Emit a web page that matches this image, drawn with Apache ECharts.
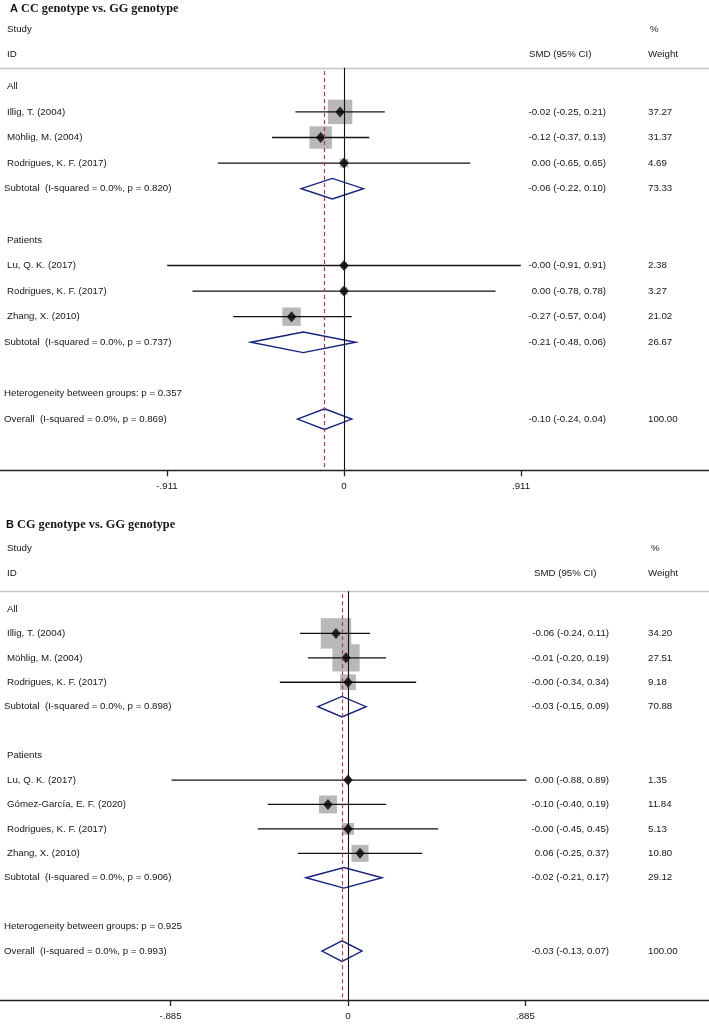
<!DOCTYPE html>
<html>
<head>
<meta charset="utf-8">
<script src="https://cdn.jsdelivr.net/npm/echarts@6/dist/echarts.min.js"></script>
<style>html,body{margin:0;padding:0;background:#fff}#c{width:709px;height:1024px}</style>
</head>
<body>
<div id="c"></div>
<script>
// ---------- Panel A data ----------
const letterA = 'A';
const titleA = 'CC genotype vs. GG genotype';
const rowsA = ['All', 'Illig, T. (2004)', 'Möhlig, M. (2004)', 'Rodrigues, K. F. (2017)',
  'Subtotal  (I-squared = 0.0%, p = 0.820)', '', 'Patients', 'Lu, Q. K. (2017)',
  'Rodrigues, K. F. (2017)', 'Zhang, X. (2010)', 'Subtotal  (I-squared = 0.0%, p = 0.737)', '',
  'Heterogeneity between groups: p = 0.357', 'Overall  (I-squared = 0.0%, p = 0.869)'];
const kindA = ['group', 'study', 'study', 'study', 'pooled', 'blank', 'group', 'study', 'study', 'study', 'pooled', 'blank', 'note', 'pooled'];
const estA = [null, -0.02, -0.12, 0.00, -0.06, null, null, -0.00, 0.00, -0.27, -0.21, null, null, -0.10];
const lowA = [null, -0.25, -0.37, -0.65, -0.22, null, null, -0.91, -0.78, -0.57, -0.48, null, null, -0.24];
const highA = [null, 0.21, 0.13, 0.65, 0.10, null, null, 0.91, 0.78, 0.04, 0.06, null, null, 0.04];
const weightA = [null, 37.27, 31.37, 4.69, 73.33, null, null, 2.38, 3.27, 21.02, 26.67, null, null, 100.00];
const tickValuesA = [-0.911, 0, 0.911];
const tickLabelsA = ['-.911', '0', '.911'];

// ---------- Panel B data ----------
const letterB = 'B';
const titleB = 'CG genotype vs. GG genotype';
const rowsB = ['All', 'Illig, T. (2004)', 'Möhlig, M. (2004)', 'Rodrigues, K. F. (2017)',
  'Subtotal  (I-squared = 0.0%, p = 0.898)', '', 'Patients', 'Lu, Q. K. (2017)',
  'Gómez-García, E. F. (2020)', 'Rodrigues, K. F. (2017)', 'Zhang, X. (2010)',
  'Subtotal  (I-squared = 0.0%, p = 0.906)', '',
  'Heterogeneity between groups: p = 0.925', 'Overall  (I-squared = 0.0%, p = 0.993)'];
const kindB = ['group', 'study', 'study', 'study', 'pooled', 'blank', 'group', 'study', 'study', 'study', 'study', 'pooled', 'blank', 'note', 'pooled'];
const estB = [null, -0.06, -0.01, -0.00, -0.03, null, null, 0.00, -0.10, -0.00, 0.06, -0.02, null, null, -0.03];
const lowB = [null, -0.24, -0.20, -0.34, -0.15, null, null, -0.88, -0.40, -0.45, -0.25, -0.21, null, null, -0.13];
const highB = [null, 0.11, 0.19, 0.34, 0.09, null, null, 0.89, 0.19, 0.45, 0.37, 0.17, null, null, 0.07];
const weightB = [null, 34.20, 27.51, 9.18, 70.88, null, null, 1.35, 11.84, 5.13, 10.80, 29.12, null, null, 100.00];
const tickValuesB = [-0.885, 0, 0.885];
const tickLabelsB = ['-.885', '0', '.885'];

// ---------- styling / layout ----------
const W = 709;
const SANS = 'Liberation Sans, Arial, sans-serif';
const SERIF = 'Liberation Serif, Times New Roman, serif';
const TXT = '#161616';
const FS = 9.7;
const NAVY = '#14227c';
const BOX = '#b8b8b8';
const RED = '#ac3f47';

const panels = [
  { letter: letterA, title: titleA, rows: rowsA, kind: kindA, est: estA, low: lowA, high: highA, weight: weightA,
    ticks: tickValuesA, tickLabels: tickLabelsA,
    top: 60.7, height: 409.6, yMax: 15, xMin: -1.7705, xMax: 1.8785, boxScale: 4.0,
    smdRight: 606, wtLeft: 648, titleLeft: 10, titleTop: 1,
    hdr: { studyTop: 23, idTop: 48, smdLeft: 529, pctLeft: 650, wtLeft: 648 } },
  { letter: letterB, title: titleB, rows: rowsB, kind: kindB, est: estB, low: lowB, high: highB, weight: weightB,
    ticks: tickValuesB, tickLabels: tickLabelsB,
    top: 584.5, height: 415.5, yMax: 16, xMin: -1.7357, xMax: 1.8005, boxScale: 5.2,
    smdRight: 609, wtLeft: 648, titleLeft: 6, titleTop: 517,
    hdr: { studyTop: 542, idTop: 567, smdLeft: 534, pctLeft: 651, wtLeft: 648 } }
];

function fmt(v) {
  const neg = v < 0 || Object.is(v, -0);
  return (neg ? '-' : '') + Math.abs(v).toFixed(2);
}

const grids = [], xAxes = [], yAxes = [], series = [], titles = [];
const HEADER_Y = -0.72;

panels.forEach((p, gi) => {
  grids.push({ left: 0, top: p.top, width: W, height: p.height, containLabel: false, outerBoundsMode: 'none' });

  const txtStyle = { fontFamily: SANS, fontSize: FS, color: TXT, lineHeight: 12 };
  titles.push({
    text: '{b|' + p.letter + '}{s| ' + p.title + '}', left: p.titleLeft, top: p.titleTop, padding: 0,
    textStyle: { rich: {
      b: { fontFamily: SANS, fontWeight: 'bold', fontSize: 11, color: '#111', lineHeight: 16 },
      s: { fontFamily: SERIF, fontSize: 12.3, color: TXT, lineHeight: 16 } } }
  });
  [['Study', 7, p.hdr.studyTop], ['ID', 7, p.hdr.idTop], ['SMD (95% CI)', p.hdr.smdLeft, p.hdr.idTop],
   ['%', p.hdr.pctLeft, p.hdr.studyTop], ['Weight', p.hdr.wtLeft, p.hdr.idTop]].forEach(h => {
    titles.push({ text: h[0], left: h[1], top: h[2], padding: 0, textStyle: Object.assign({ fontWeight: 'normal' }, txtStyle) });
  });

  xAxes.push({
    type: 'value', gridIndex: gi, min: p.xMin, max: p.xMax,
    axisLine: { show: true, onZero: false, lineStyle: { color: '#222', width: 1.3 } },
    axisTick: { show: true, customValues: p.ticks, length: 6, inside: false, lineStyle: { color: '#222', width: 1.3 } },
    axisLabel: { customValues: p.ticks, margin: 11, fontFamily: SANS, fontSize: FS, color: TXT,
      formatter: v => { const i = p.ticks.indexOf(v); return i >= 0 ? p.tickLabels[i] : ''; } },
    splitLine: { show: false }
  });

  const baseY = {
    type: 'value', gridIndex: gi, inverse: true, min: -1, max: p.yMax, interval: 1,
    axisLine: { show: false, onZero: false }, axisTick: { show: false }, splitLine: { show: false }
  };
  const lblBase = { fontFamily: SANS, fontSize: FS, color: TXT };
  // names
  yAxes.push(Object.assign({}, baseY, {
    position: 'left',
    axisLabel: Object.assign({}, lblBase, {
      inside: true, margin: 4,
      formatter: v => {
        const t = p.rows[v];
        if (v < 0 || !t) return '';
        const k = p.kind[v];
        return (k === 'study' || k === 'group') ? '{i|' + t + '}' : '{n|' + t + '}';
      },
      rich: { i: Object.assign({ padding: [0, 0, 0, 3] }, lblBase), n: Object.assign({}, lblBase) }
    })
  }));
  // SMD (95% CI)
  yAxes.push(Object.assign({}, baseY, {
    position: 'right', offset: -(W - p.smdRight),
    axisLabel: Object.assign({}, lblBase, {
      inside: true, margin: 0,
      formatter: v => {
        const k = p.kind[v];
        if (v < 0 || !(k === 'study' || k === 'pooled')) return '';
        return fmt(p.est[v]) + ' (' + fmt(p.low[v]) + ', ' + fmt(p.high[v]) + ')';
      }
    })
  }));
  // weight
  yAxes.push(Object.assign({}, baseY, {
    position: 'right', offset: -(W - p.wtLeft),
    axisLabel: Object.assign({}, lblBase, {
      inside: false, margin: 0,
      formatter: v => {
        const k = p.kind[v];
        if (v < 0 || !(k === 'study' || k === 'pooled')) return '';
        return p.weight[v].toFixed(2);
      }
    })
  }));

  const yi = gi * 3;
  const overall = p.est[p.rows.length - 1];
  const studyIdx = p.kind.map((k, i) => k === 'study' ? i : -1).filter(i => i >= 0);
  const pooledIdx = p.kind.map((k, i) => k === 'pooled' ? i : -1).filter(i => i >= 0);

  // reference lines
  series.push({
    type: 'line', xAxisIndex: gi, yAxisIndex: yi, data: [], z: 1, silent: true,
    markLine: {
      silent: true, symbol: ['none', 'none'], label: { show: false }, animation: false,
      data: [
        [{ coord: [p.xMin, HEADER_Y], lineStyle: { color: '#c4c4c4', width: 1.3, type: 'solid' } }, { coord: [p.xMax, HEADER_Y] }],
        [{ coord: [0, HEADER_Y], lineStyle: { color: '#111', width: 1.1, type: 'solid' } }, { coord: [0, p.yMax] }],
        [{ coord: [overall, HEADER_Y + 0.12], lineStyle: { color: RED, width: 1.2, type: [4, 3] } }, { coord: [overall, p.yMax] }]
      ]
    }
  });
  // weight boxes
  series.push({
    type: 'scatter', xAxisIndex: gi, yAxisIndex: yi, z: 2, silent: true,
    symbol: 'rect', symbolSize: val => p.boxScale * Math.sqrt(val[2]),
    itemStyle: { color: BOX, opacity: 1 },
    data: studyIdx.map(i => [p.est[i], i, p.weight[i]])
  });
  // confidence intervals
  series.push({
    type: 'custom', xAxisIndex: gi, yAxisIndex: yi, z: 3, silent: true,
    encode: { x: [0, 1], y: 2 },
    data: studyIdx.map(i => [p.low[i], p.high[i], i]),
    renderItem: (params, api) => {
      const a = api.coord([api.value(0), api.value(2)]);
      const b = api.coord([api.value(1), api.value(2)]);
      return { type: 'line', shape: { x1: a[0], y1: a[1], x2: b[0], y2: b[1] }, style: { stroke: '#111', lineWidth: 1.3 } };
    }
  });
  // pooled diamonds
  series.push({
    type: 'custom', xAxisIndex: gi, yAxisIndex: yi, z: 3, silent: true,
    encode: { x: [0, 1, 2], y: 3 },
    data: pooledIdx.map(i => [p.low[i], p.est[i], p.high[i], i]),
    renderItem: (params, api) => {
      const l = api.coord([api.value(0), api.value(3)]);
      const c = api.coord([api.value(1), api.value(3)]);
      const r = api.coord([api.value(2), api.value(3)]);
      const h = 10.3;
      return { type: 'polygon', shape: { points: [[l[0], l[1]], [c[0], c[1] - h], [r[0], r[1]], [c[0], c[1] + h]] },
        style: { fill: 'none', stroke: NAVY, lineWidth: 1.4 } };
    }
  });
  // point estimates
  series.push({
    type: 'scatter', xAxisIndex: gi, yAxisIndex: yi, z: 4, silent: true,
    symbol: 'diamond', symbolSize: [9.5, 11],
    itemStyle: { color: '#000' },
    data: studyIdx.map(i => [p.est[i], i])
  });
});

const chart = echarts.init(document.getElementById('c'), null, { renderer: 'canvas' });
chart.setOption({
  backgroundColor: '#fff',
  animation: false,
  tooltip: { show: false },
  title: titles,
  grid: grids,
  xAxis: xAxes,
  yAxis: yAxes,
  series: series
});
</script>
</body>
</html>
